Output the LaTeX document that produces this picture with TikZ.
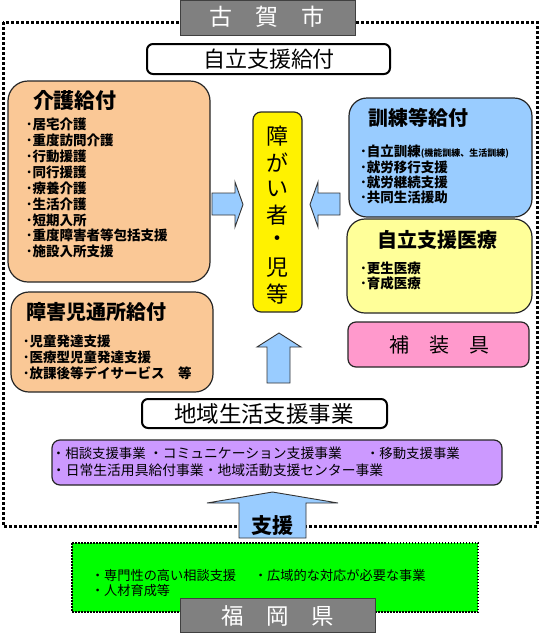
\documentclass[tikz,border=0pt]{standalone}
\usepackage{fontspec}
\setmainfont{Noto Sans CJK JP}
\newcommand\jfs[1]{\fontsize{#1}{#1}\selectfont}
\definecolor{peach}{HTML}{FAC896}
\definecolor{lblue}{HTML}{99CCFF}
\definecolor{lyellow}{HTML}{FFFF99}
\definecolor{pinkc}{HTML}{FF99CC}
\definecolor{purplec}{HTML}{CC99FF}
\definecolor{greenc}{HTML}{00FF00}
\definecolor{grayc}{HTML}{808080}
\begin{document}
\begin{tikzpicture}[x=1pt,y=-1pt,
  every node/.style={inner sep=0pt,outer sep=0pt},
  boxline/.style={draw=black!85,line width=1.2pt},
  headbox/.style={draw=black,line width=2pt,fill=white,rounded corners=6pt},
  graybox/.style={draw=black!75,line width=1pt,fill=grayc},
  blockarrow/.style={draw=black!80,line width=0.9pt,fill=lblue},
  titletxt/.style={font=\bfseries\jfs{20},anchor=west},
  itemtxt/.style={font=\bfseries\jfs{13.5},anchor=west},
  thintxt/.style={font=\jfs{13.4},anchor=west}]
\useasboundingbox (0,0) rectangle (540,633);

% outer dotted frame (Koga city)
\draw[line width=3pt,dash pattern=on 3pt off 2pt] (3,22) rectangle (537,526);

% Koga city label
\path[graybox] (180,0) rectangle (355,35);
\node[font=\jfs{23},text=white] (koga) at (267,17) {古　賀　市};

% jiritsu shien kyufu
\path[headbox] (147,44) rectangle (390,74);
\node[font=\jfs{22}] (jsk) at (269,59) {自立支援給付};

% kaigo kyufu
\path[boxline,fill=peach,rounded corners=20pt] (8,81) rectangle (210,282);
\node[titletxt,font=\bfseries\jfs{21}] (kaigo) at (33,100) {介護給付};
\foreach \t [count=\i] in {居宅介護,重度訪問介護,行動援護,同行援護,療養介護,生活介護,短期入所,重度障害者等包括支援,施設入所支援}
  \node[itemtxt] (ka\i) at (26,{124.5+15.9*(\i-1)}) {･\t};

% shogaiji tsusho kyufu
\path[boxline,fill=peach,rounded corners=18pt] (11,292) rectangle (213,392);
\node[titletxt] (shogaiji) at (27,312) {障害児通所給付};
\foreach \t [count=\i] in {児童発達支援,医療型児童発達支援,放課後等デイサービス　等}
  \node[itemtxt] (sj\i) at (23,{341+16*(\i-1)}) {･\t};

% central yellow box
\path[boxline,fill=yellow,rounded corners=8pt] (253,112) rectangle (302,312);
\foreach \c [count=\i] in {障,が,い,者,・,児,等}
  \node[font=\jfs{22}] (yc\i) at (277.5,{136+26.3*(\i-1)}) {\c};

% arrows toward the center
\path[blockarrow] (212,193) -- (235,193) -- (235,182) -- (243,204.5) -- (235,227) -- (235,215) -- (212,215) -- cycle;
\path[blockarrow] (340,193) -- (318,193) -- (318,182) -- (310,204.5) -- (318,227) -- (318,215) -- (340,215) -- cycle;
\path[blockarrow] (267,383) -- (267,347) -- (257,347) -- (279,333) -- (301,347) -- (290,347) -- (290,383) -- cycle;

% kunren tou kyufu
\path[boxline,fill=lblue,rounded corners=18pt] (349,98) rectangle (532,217);
\node[titletxt] (kunren) at (368,118) {訓練等給付};
\node[itemtxt] (ku1) at (360,152) {･自立訓練{\jfs{9}(機能訓練、生活訓練)}};
\foreach \t [count=\i from 2] in {就労移行支援,就労継続支援,共同生活援助}
  \node[itemtxt] (ku\i) at (360,{152+15*(\i-1)}) {･\t};

% jiritsu shien iryo
\path[boxline,fill=lyellow,rounded corners=18pt] (347,219) rectangle (532,313);
\node[titletxt] (iryo) at (377,240) {自立支援医療};
\node[itemtxt] (ir1) at (360,268) {･更生医療};
\node[itemtxt] (ir2) at (360,283) {･育成医療};

% hosougu
\path[boxline,fill=pinkc,rounded corners=8pt] (348,322) rectangle (529,367);
\node[font=\jfs{20}] (hosogu) at (439,345) {補　装　具};

% chiiki seikatsu shien jigyo
\path[headbox] (142,399) rectangle (387,428);
\node[font=\jfs{22.5}] (chiiki) at (264,414) {地域生活支援事業};

\path[boxline,fill=purplec,rounded corners=8pt] (52,440) rectangle (502,485);
\node[thintxt] (cs1) at (52,453) {・相談支援事業};
\node[thintxt,font=\jfs{13.8}] (cs2) at (149,453) {・コミュニケーション支援事業};
\node[thintxt] (cs3) at (366,453) {・移動支援事業};
\node[thintxt,font=\jfs{13.8}] (cs4) at (52,470) {・日常生活用具給付事業・地域活動支援センター事業};

% shien arrow
\path[blockarrow] (239,538) -- (239,503) -- (207,503) -- (272.5,492) -- (338,503) -- (306,503) -- (306,538) -- cycle;
\node[font=\bfseries\jfs{21}] (shien) at (272.5,526) {支援};

% Fukuoka prefecture
\path[draw=black,line width=1.5pt,dash pattern=on 1.5pt off 1.5pt,fill=greenc] (72,543) rectangle (478,612);
\node[thintxt,font=\jfs{13.2}] (fk1) at (91,575) {・専門性の高い相談支援};
\node[thintxt,font=\jfs{13.2}] (fk2) at (254,575) {・広域的な対応が必要な事業};
\node[thintxt,font=\jfs{13.2}] (fk3) at (91,590) {・人材育成等};

\path[graybox] (180,598) rectangle (375,632);
\node[font=\jfs{22.5},text=white] (fukuoka) at (277.5,616) {福　岡　県};
\end{tikzpicture}
\end{document}
